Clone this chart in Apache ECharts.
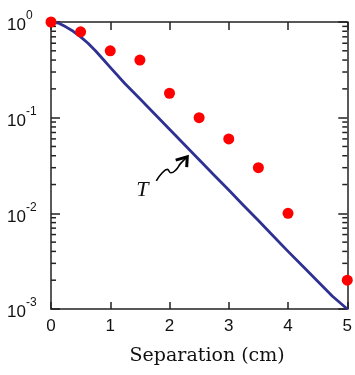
<!DOCTYPE html>
<html>
<head>
<meta charset="utf-8">
<script src="https://cdn.jsdelivr.net/npm/echarts@6/dist/echarts.min.js"></script>
<style>html,body{margin:0;padding:0;background:#fff}#c{width:355px;height:375px}</style>
</head>
<body>
<div id="c"></div>
<script>
// ---- data ----
const dotX = [0, 0.5, 1, 1.5, 2, 2.5, 3, 3.5, 4, 5];
const dotY = [1, 0.79, 0.5, 0.4, 0.18, 0.1, 0.06, 0.03, 0.01, 0.002];
const curveX = [0, 0.125, 0.25, 0.375, 0.5, 0.625, 0.75, 0.875, 1, 1.25, 1.5, 1.75, 2, 2.25, 2.5, 2.75, 3, 3.25, 3.5, 3.75, 4, 4.25, 4.5, 4.75, 5];
const curveY = [1, 0.975, 0.89, 0.80, 0.70, 0.60, 0.50, 0.41, 0.335, 0.226, 0.158, 0.109, 0.0755, 0.0524, 0.0363, 0.0252, 0.0175, 0.0121, 0.0084, 0.0058, 0.0040, 0.0028, 0.00195, 0.00136, 0.001];
const xTickLabels = ['0', '1', '2', '3', '4', '5'];
const yTicks = [1, 0.1, 0.01, 0.001];
const yTickExps = ['0', '-1', '-2', '-3'];
const yMinorTicks = [0.002,0.003,0.004,0.005,0.006,0.007,0.008,0.009,
                     0.02,0.03,0.04,0.05,0.06,0.07,0.08,0.09,
                     0.2,0.3,0.4,0.5,0.6,0.7,0.8,0.9];
const xTitle = 'Separation (cm)';
const annotLabel = 'T';
const annotPoint = [2.3, 0.039];

const chart = echarts.init(document.getElementById('c'), null, {renderer: 'canvas'});
const axisColor = '#222';
const sansFont = '"Liberation Sans", Arial, sans-serif';
const serifFont = '"DejaVu Serif", "Liberation Serif", serif';

function yLabel(v) {
  for (let i = 0; i < yTicks.length; i++) {
    if (Math.abs(Math.log10(v) - Math.log10(yTicks[i])) < 1e-6) return '{b|10}{s|' + yTickExps[i] + '}';
  }
  return '';
}

const option = {
  animation: false,
  grid: {left: 51, right: 6, top: 22, bottom: 66, containLabel: false},
  xAxis: [{
    type: 'value', min: 0, max: 5, interval: 1,
    axisLine: {show: true, onZero: false, lineStyle: {color: axisColor, width: 1.5}},
    axisTick: {show: true, inside: true, length: 7, lineStyle: {color: axisColor, width: 1.5}},
    splitLine: {show: false},
    axisLabel: {margin: 9, color: '#111', fontFamily: sansFont, fontSize: 17,
      formatter: v => xTickLabels[Math.round(v)] ?? ''},
    name: xTitle, nameLocation: 'middle', nameGap: 38,
    nameTextStyle: {fontFamily: serifFont, fontSize: 19, color: '#111', padding: [0, 0, 0, 16]}
  }, {
    type: 'value', min: 0, max: 5, interval: 1, position: 'top',
    axisLine: {show: true, onZero: false, lineStyle: {color: axisColor, width: 1.5}},
    axisTick: {show: true, inside: true, length: 8, lineStyle: {color: axisColor, width: 1.5}},
    splitLine: {show: false}, axisLabel: {show: false}
  }],
  yAxis: [{
    type: 'log', logBase: 10, min: 0.001, max: 1,
    axisLine: {show: true, onZero: false, lineStyle: {color: axisColor, width: 1.5}},
    axisTick: {show: true, inside: true, length: 9, lineStyle: {color: axisColor, width: 1.5}},
    splitLine: {show: false}, minorTick: {show: false},
    axisLabel: {margin: 44, align: 'left', formatter: yLabel, fontSize: 17, fontFamily: sansFont, color: '#111',
      rich: {
        b: {fontFamily: sansFont, fontSize: 17, color: '#111', lineHeight: 24, verticalAlign: 'bottom'},
        s: {fontFamily: sansFont, fontSize: 12, color: '#111', lineHeight: 24, verticalAlign: 'top'}
      }}
  }, {
    type: 'log', logBase: 10, min: 0.001, max: 1, position: 'right',
    axisLine: {show: true, onZero: false, lineStyle: {color: axisColor, width: 1.5}},
    axisTick: {show: true, inside: true, length: 9, lineStyle: {color: axisColor, width: 1.5}},
    splitLine: {show: false}, axisLabel: {show: false}
  }],
  series: [{
    type: 'custom', xAxisIndex: 0, yAxisIndex: 0, silent: true, clip: false,
    data: yMinorTicks.map(v => [0, v]),
    renderItem: function (params, api) {
      const v = api.value(1);
      const l = api.coord([0, v]);
      const r = api.coord([5, v]);
      const st = {stroke: axisColor, lineWidth: 1.5};
      return {type: 'group', children: [
        {type: 'line', shape: {x1: l[0], y1: l[1], x2: l[0] + 5, y2: l[1]}, style: st},
        {type: 'line', shape: {x1: r[0], y1: r[1], x2: r[0] - 5, y2: r[1]}, style: st}
      ]};
    }
  }, {
    type: 'line', xAxisIndex: 0, yAxisIndex: 0,
    data: curveX.map((x, i) => [x, curveY[i]]),
    smooth: false, showSymbol: false, symbol: 'none', clip: false,
    lineStyle: {color: '#2e3192', width: 2.8, join: 'round'}
  }, {
    type: 'scatter', xAxisIndex: 0, yAxisIndex: 0,
    data: dotX.map((x, i) => [x, dotY[i]]),
    symbol: 'circle', symbolSize: 11, clip: false,
    itemStyle: {color: '#ff0000', opacity: 1}, z: 5
  }]
};
chart.setOption(option);

// annotation anchored to data point via the axes
const tip = chart.convertToPixel({xAxisIndex: 0, yAxisIndex: 0}, annotPoint);
const tx = tip[0], ty = tip[1];
const squiggle = [[-31, 24], [-25, 16], [-20, 12.6], [-16.6, 16], [-11.6, 13.3], [-6.6, 6.6], [0, 0]]
  .map(p => [tx + p[0], ty + p[1]]);
const head = [[-11.6, 3.3], [0, 0], [-0.6, 10.3]].map(p => [tx + p[0], ty + p[1]]);
chart.setOption({
  graphic: [
    {type: 'polyline', shape: {points: squiggle, smooth: 0.5}, style: {stroke: '#000', lineWidth: 1.6, fill: null}, z: 10},
    {type: 'polyline', shape: {points: head}, style: {stroke: '#000', lineWidth: 3, fill: null, lineJoin: 'miter'}, z: 10},
    {type: 'text', x: tx - 45, y: ty + 33, style: {text: annotLabel, font: 'italic 22px "Liberation Serif", serif', fill: '#111', align: 'center', verticalAlign: 'middle'}, z: 10}
  ]
});
</script>
</body>
</html>
